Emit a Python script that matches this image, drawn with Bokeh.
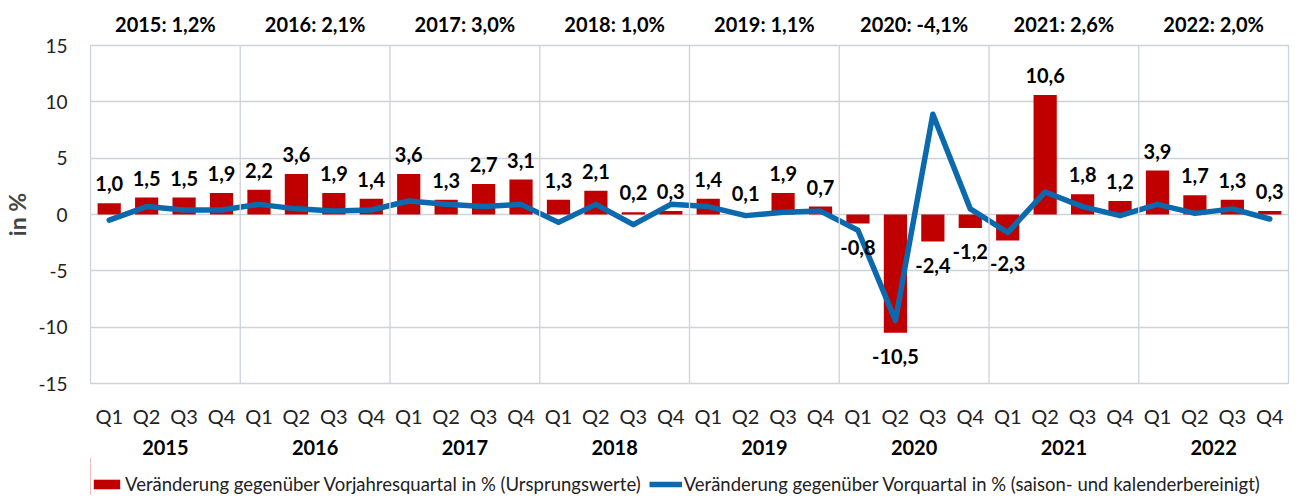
from bokeh.plotting import figure
from bokeh.models import (Range1d, FixedTicker, LinearAxis, Legend, LegendItem, Span)
from bokeh.layouts import column
from bokeh.core.properties import value
from bokeh.embed import file_html
from bokeh.resources import INLINE

# ---------------- data ----------------
years = ["2015", "2016", "2017", "2018", "2019", "2020", "2021", "2022"]
annual = [1.2, 2.1, 3.0, 1.0, 1.1, -4.1, 2.6, 2.0]
quarters = ["Q1", "Q2", "Q3", "Q4"]
yoy = [1.0, 1.5, 1.5, 1.9, 2.2, 3.6, 1.9, 1.4,
       3.6, 1.3, 2.7, 3.1, 1.3, 2.1, 0.2, 0.3,
       1.4, 0.1, 1.9, 0.7, -0.8, -10.5, -2.4, -1.2,
       -2.3, 10.6, 1.8, 1.2, 3.9, 1.7, 1.3, 0.3]
qoq = [-0.5, 0.7, 0.4, 0.4, 0.9, 0.5, 0.3, 0.4,
       1.2, 0.9, 0.7, 0.9, -0.7, 0.9, -0.9, 0.9,
       0.7, -0.1, 0.2, 0.3, -1.4, -9.4, 8.9, 0.5,
       -1.6, 2.0, 0.7, -0.1, 0.9, 0.1, 0.5, -0.4]
y_ticks = [-15, -10, -5, 0, 5, 10, 15]
legend_labels = ["Veränderung gegenüber Vorjahresquartal in % (Ursprungswerte)",
                 "Veränderung gegenüber Vorquartal in % (saison- und kalenderbereinigt)"]

FONT = "Lato"
RED = "#C00000"
BLUE = "#0B69AE"
GRID = "#CDD3DB"

n = len(yoy)
xs = [i + 0.5 for i in range(n)]
fmt = lambda v: f"{v:.1f}".replace(".", ",")

p = figure(frame_width=1198, frame_height=338, output_backend="svg", toolbar_location=None,
           x_range=Range1d(0, n), y_range=Range1d(-15, 15),
           min_border_left=89, min_border_right=22, min_border_top=45,
           min_border_bottom=0, x_axis_type=None)
p.outline_line_color = GRID
p.outline_line_width = 1.3
p.background_fill_color = "white"
p.border_fill_color = "white"

# grid
p.ygrid.ticker = FixedTicker(ticks=y_ticks)
p.ygrid.grid_line_color = GRID
p.ygrid.grid_line_width = 1.3
p.xgrid.visible = False

# y axis
p.yaxis.ticker = FixedTicker(ticks=y_ticks)
p.yaxis.major_label_overrides = {t: str(t) for t in y_ticks}
p.yaxis.axis_line_color = None
p.yaxis.major_tick_line_color = None
p.yaxis.minor_tick_line_color = None
p.yaxis.major_tick_out = 0
p.yaxis.major_tick_in = 0
p.yaxis.major_label_text_font = FONT
p.yaxis.major_label_text_font_size = "19px"
p.yaxis.major_label_text_color = "#222222"
p.yaxis.major_label_standoff = 23
p.yaxis.axis_label = "in %"
p.yaxis.axis_label_text_font = FONT
p.yaxis.axis_label_text_font_style = "bold"
p.yaxis.axis_label_text_font_size = "23px"
p.yaxis.axis_label_standoff = 4

# vertical year separators
for k in range(1, len(years)):
    p.add_layout(Span(location=4 * k, dimension="height", line_color=GRID, line_width=1.3))

bars = p.vbar(x=xs, top=yoy, bottom=0, width=0.62, fill_color=RED, line_color=None)
line = p.line(x=xs, y=qoq, line_color=BLUE, line_width=5.5, line_cap="round", line_join="round")

# data labels
pos_x = [x for x, v in zip(xs, yoy) if v >= 0]
pos_y = [v for v in yoy if v >= 0]
pos_t = [fmt(v) for v in yoy if v >= 0]
neg_x = [x for x, v in zip(xs, yoy) if v < 0]
neg_y = [v for v in yoy if v < 0]
neg_t = [fmt(v) for v in yoy if v < 0]
p.text(x=pos_x, y=pos_y, text=pos_t, text_align="center", text_baseline="bottom",
       y_offset=-12, text_font=value(FONT), text_font_style="bold",
       text_font_size="20px", text_color="black")
p.text(x=neg_x, y=neg_y, text=neg_t, text_align="center", text_baseline="top",
       y_offset=16, text_font=value(FONT), text_font_style="bold",
       text_font_size="20px", text_color="black")

def plain_axis(ticks, labels, bold, size, standoff):
    ax = LinearAxis(ticker=FixedTicker(ticks=ticks),
                    major_label_overrides={t: l for t, l in zip(ticks, labels)})
    ax.axis_line_color = None
    ax.major_tick_line_color = None
    ax.minor_tick_line_color = None
    ax.major_tick_out = 0
    ax.major_tick_in = 0
    ax.major_label_text_font = FONT
    ax.major_label_text_font_size = size
    ax.major_label_text_color = "black" if bold else "#222222"
    ax.major_label_text_font_style = "bold" if bold else "normal"
    ax.major_label_standoff = standoff
    return ax

year_centers = [4 * k + 2 for k in range(len(years))]
q_labels = [quarters[i % 4] for i in range(n)]
top_labels = [f"{y}: {fmt(a)}%" for y, a in zip(years, annual)]

p.add_layout(plain_axis(xs, q_labels, False, "20px", 20), "below")
p.add_layout(plain_axis(year_centers, years, True, "20px", 9), "below")
p.add_layout(plain_axis(year_centers, top_labels, True, "20px", 10), "above")

# ---- legend strip (separate svg figure below the chart) ----
lg = figure(width=1309, height=38, output_backend="svg", toolbar_location=None,
            x_range=Range1d(0, 1), y_range=Range1d(0, 1),
            x_axis_type=None, y_axis_type=None, min_border=0)
lg.outline_line_color = None
lg.xgrid.visible = False
lg.ygrid.visible = False
# off-range proxy renderers that only supply the legend glyph styles
lg_bar = lg.vbar(x=[-5], top=[1], width=0.62, fill_color=RED, line_color=None)
lg_line = lg.line(x=[-5, -4], y=[0, 0], line_color=BLUE, line_width=5.5)
legend = Legend(items=[LegendItem(label=legend_labels[0], renderers=[lg_bar]),
                       LegendItem(label=legend_labels[1], renderers=[lg_line])],
                orientation="horizontal", location=(0, 0),
                label_text_font=FONT, label_text_font_size="18.5px",
                label_text_color="#222222",
                glyph_width=33, glyph_height=12, label_standoff=2, spacing=8,
                padding=0, margin=0, border_line_color=None,
                background_fill_alpha=0)
lg.add_layout(legend, "center")

layout = column(p, lg, spacing=0)
open("out.html", "w").write(file_html(layout, INLINE))
